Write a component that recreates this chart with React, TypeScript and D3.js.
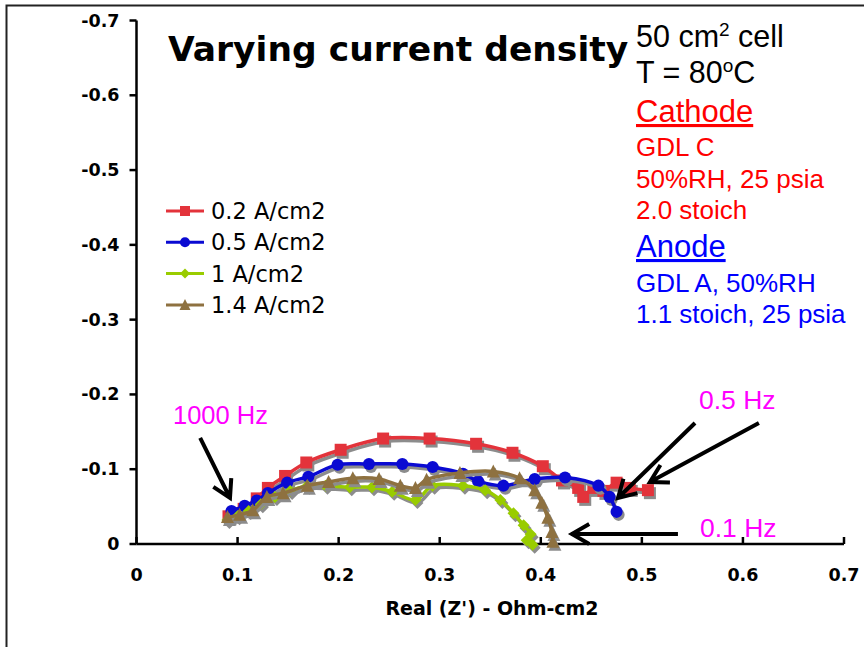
import React, { useEffect, useRef } from 'react';
import * as d3 from 'd3';

// Nyquist data: [Real Z', Imag Z''] (Ohm-cm2)
const series02 = [
  [0.091, -0.037], [0.098, -0.041], [0.106, -0.047], [0.119, -0.061], [0.130, -0.075],
  [0.147, -0.091], [0.168, -0.109], [0.202, -0.126], [0.244, -0.141], [0.290, -0.141],
  [0.336, -0.134], [0.372, -0.122], [0.402, -0.104], [0.421, -0.085], [0.437, -0.075],
  [0.442, -0.063], [0.452, -0.075], [0.462, -0.071], [0.475, -0.082], [0.488, -0.075],
  [0.506, -0.072]
];
const series05 = [
  [0.094, -0.044], [0.107, -0.051], [0.119, -0.058], [0.130, -0.068], [0.149, -0.082],
  [0.170, -0.090], [0.199, -0.106], [0.230, -0.107], [0.263, -0.107], [0.293, -0.103],
  [0.323, -0.094], [0.338, -0.084], [0.363, -0.078], [0.394, -0.087], [0.424, -0.089],
  [0.457, -0.078], [0.468, -0.063], [0.475, -0.043]
];
const series10 = [
  [0.090, -0.032], [0.100, -0.037], [0.111, -0.044], [0.123, -0.053], [0.137, -0.063],
  [0.152, -0.071], [0.169, -0.078], [0.187, -0.078], [0.211, -0.076], [0.233, -0.076],
  [0.253, -0.070], [0.276, -0.059], [0.293, -0.078], [0.323, -0.078], [0.345, -0.072],
  [0.360, -0.059], [0.373, -0.041], [0.383, -0.025], [0.390, -0.013], [0.386, -0.005],
  [0.392, 0.001]
];
const series14 = [
  [0.090, -0.036], [0.102, -0.039], [0.115, -0.045], [0.129, -0.063], [0.145, -0.068],
  [0.169, -0.078], [0.190, -0.083], [0.214, -0.088], [0.240, -0.087], [0.261, -0.078],
  [0.276, -0.075], [0.287, -0.086], [0.320, -0.095], [0.353, -0.097], [0.379, -0.088],
  [0.394, -0.072], [0.401, -0.055], [0.407, -0.035], [0.411, -0.016], [0.412, -0.003]
];

const seriesNames = ['0.2 A/cm2', '0.5 A/cm2', '1 A/cm2', '1.4 A/cm2'];
const seriesColors = ['#E3333B', '#0A0AD2', '#99CC00', '#8E7140'];
const seriesMarkers = ['square', 'circle', 'diamond', 'triangle'];

const xTicks = [0, 0.1, 0.2, 0.3, 0.4, 0.5, 0.6, 0.7];
const yTicks = [0, -0.1, -0.2, -0.3, -0.4, -0.5, -0.6, -0.7];

// frequency annotation arrows, [from, to] in data units
const arrows = [
  [[0.063, -0.142], [0.0925, -0.0615]],
  [[0.5526, -0.1618], [0.4764, -0.0615]],
  [[0.6158, -0.1618], [0.508, -0.0829]],
  [[0.5357, -0.0134], [0.4308, -0.0134]]
];

const infoLines = [
  { text: 'GDL C', y: 156, color: '#FF0000' },
  { text: '50%RH, 25 psia', y: 188, color: '#FF0000' },
  { text: '2.0 stoich', y: 219, color: '#FF0000' },
  { text: 'GDL A, 50%RH', y: 292, color: '#0000FF' },
  { text: '1.1 stoich, 25 psia', y: 323, color: '#0000FF' }
];

function markerPath(type, size) {
  const s = size / 2;
  if (type === 'square') return `M${-s},${-s}h${size}v${size}h${-size}Z`;
  if (type === 'diamond') return `M0,${-s}L${s},0L0,${s}L${-s},0Z`;
  if (type === 'triangle') return `M0,${-s - 1}L${s + 0.5},${s}L${-s - 0.5},${s}Z`;
  return d3.symbol(d3.symbolCircle, size * size * 0.8)();
}

function App() {
  const svgRef = useRef(null);

  useEffect(() => {
    const width = 864;
    const height = 647;
    const svg = d3.select(svgRef.current);
    svg.selectAll('*').remove();
    svg.attr('width', width).attr('height', height);

    const x = d3.scaleLinear().domain([0, 0.7]).range([136.5, 844]);
    const y = d3.scaleLinear().domain([0, -0.7]).range([544, 20.5]);

    // frame
    svg.append('path')
      .attr('d', `M6.5,${height}V5.5H${width}`)
      .attr('fill', 'none')
      .attr('stroke', '#222')
      .attr('stroke-width', 2);

    // axes
    const axisColor = '#000';
    svg.append('line')
      .attr('x1', x(0)).attr('x2', x(0))
      .attr('y1', y(-0.7)).attr('y2', y(0))
      .attr('stroke', axisColor).attr('stroke-width', 2.5);
    svg.append('line')
      .attr('x1', x(0)).attr('x2', x(0.7))
      .attr('y1', y(0)).attr('y2', y(0))
      .attr('stroke', axisColor).attr('stroke-width', 2.5);

    svg.selectAll('line.ytick')
      .data(yTicks)
      .enter()
      .append('line')
      .attr('class', 'ytick')
      .attr('x1', x(0) - 7).attr('x2', x(0))
      .attr('y1', d => y(d)).attr('y2', d => y(d))
      .attr('stroke', axisColor).attr('stroke-width', 2.5);

    svg.selectAll('text.ylab')
      .data(yTicks)
      .enter()
      .append('text')
      .attr('class', 'ylab')
      .attr('x', x(0) - 17)
      .attr('y', d => y(d) + 6)
      .attr('text-anchor', 'end')
      .attr('font-family', 'DejaVu Sans')
      .attr('font-weight', 'bold')
      .attr('font-size', 17.5)
      .text(d => (d === 0 ? '0' : d.toFixed(1)));

    svg.selectAll('line.xtick')
      .data(xTicks)
      .enter()
      .append('line')
      .attr('class', 'xtick')
      .attr('x1', d => x(d)).attr('x2', d => x(d))
      .attr('y1', y(0) - 7).attr('y2', y(0))
      .attr('stroke', axisColor).attr('stroke-width', 2.5);

    svg.selectAll('text.xlab')
      .data(xTicks)
      .enter()
      .append('text')
      .attr('class', 'xlab')
      .attr('x', d => x(d))
      .attr('y', 581)
      .attr('text-anchor', 'middle')
      .attr('font-family', 'DejaVu Sans')
      .attr('font-weight', 'bold')
      .attr('font-size', 17.5)
      .text(d => (d === 0 ? '0' : d.toFixed(1)));

    svg.append('text')
      .attr('x', 492)
      .attr('y', 615)
      .attr('text-anchor', 'middle')
      .attr('font-family', 'DejaVu Sans')
      .attr('font-weight', 'bold')
      .attr('font-size', 19)
      .text("Real (Z') - Ohm-cm2");

    // series
    const allSeries = [series02, series05, series10, series14];
    const line = d3.line()
      .x(d => x(d[0]))
      .y(d => y(d[1]))
      .curve(d3.curveCatmullRom.alpha(0.5));

    allSeries.forEach((data, i) => {
      const color = seriesColors[i];
      const size = 12;
      // shadow
      const sh = svg.append('g').attr('transform', 'translate(2,3)');
      sh.append('path')
        .attr('d', line(data))
        .attr('fill', 'none')
        .attr('stroke', '#8c8c8c')
        .attr('stroke-width', 3.5);
      sh.selectAll('path.m')
        .data(data)
        .enter()
        .append('path')
        .attr('class', 'm')
        .attr('transform', d => `translate(${x(d[0])},${y(d[1])})`)
        .attr('d', markerPath(seriesMarkers[i], size))
        .attr('fill', '#8c8c8c');

      const g = svg.append('g');
      g.append('path')
        .attr('d', line(data))
        .attr('fill', 'none')
        .attr('stroke', color)
        .attr('stroke-width', 3.5);
      g.selectAll('path.m')
        .data(data)
        .enter()
        .append('path')
        .attr('class', 'm')
        .attr('transform', d => `translate(${x(d[0])},${y(d[1])})`)
        .attr('d', markerPath(seriesMarkers[i], size))
        .attr('fill', color);
    });

    // legend
    const legend = svg.append('g').attr('transform', 'translate(166,211)');
    seriesNames.forEach((name, i) => {
      const row = legend.append('g').attr('transform', `translate(0,${i * 31.3})`);
      row.append('line')
        .attr('x1', 0).attr('x2', 38)
        .attr('stroke', seriesColors[i])
        .attr('stroke-width', 3);
      row.append('path')
        .attr('transform', 'translate(19,0)')
        .attr('d', markerPath(seriesMarkers[i], 10))
        .attr('fill', seriesColors[i]);
      row.append('text')
        .attr('x', 45)
        .attr('y', 8)
        .attr('font-family', 'DejaVu Sans')
        .attr('font-size', 22.5)
        .text(name);
    });

    // title
    svg.append('text')
      .attr('x', 168)
      .attr('y', 61)
      .attr('font-family', 'DejaVu Sans')
      .attr('font-weight', 'bold')
      .attr('font-size', 34.5)
      .text('Varying current density');

    // test conditions block
    const info = svg.append('g').attr('font-family', 'Liberation Sans, Arial');
    const t1 = info.append('text').attr('x', 636).attr('y', 47).attr('font-size', 30.5);
    t1.append('tspan').text('50 cm');
    t1.append('tspan').attr('font-size', 19).attr('dy', -11).text('2');
    t1.append('tspan').attr('dy', 11).text(' cell');
    const t2 = info.append('text').attr('x', 636).attr('y', 83).attr('font-size', 30.5);
    t2.append('tspan').text('T = 80');
    t2.append('tspan').attr('font-size', 19).attr('dy', -11).text('o');
    t2.append('tspan').attr('dy', 11).text('C');

    info.append('text')
      .attr('x', 636).attr('y', 122)
      .attr('font-size', 31)
      .attr('fill', '#FF0000')
      .attr('text-decoration', 'underline')
      .text('Cathode');
    info.append('text')
      .attr('x', 636).attr('y', 257)
      .attr('font-size', 31)
      .attr('fill', '#0000FF')
      .attr('text-decoration', 'underline')
      .text('Anode');
    info.selectAll('text.small')
      .data(infoLines)
      .enter()
      .append('text')
      .attr('class', 'small')
      .attr('x', 636)
      .attr('y', d => d.y)
      .attr('font-size', 26)
      .attr('fill', d => d.color)
      .text(d => d.text);

    // frequency labels
    const freq = svg.append('g')
      .attr('font-family', 'Liberation Sans, Arial')
      .attr('fill', '#FF00FF');
    freq.append('text').attr('x', 173).attr('y', 424).attr('font-size', 25.5).text('1000 Hz');
    freq.append('text').attr('x', 699).attr('y', 409).attr('font-size', 26.5).text('0.5 Hz');
    freq.append('text').attr('x', 700).attr('y', 537).attr('font-size', 26.5).text('0.1 Hz');

    // arrows
    arrows.forEach(([from, to]) => {
      const x1 = x(from[0]), y1 = y(from[1]);
      const x2 = x(to[0]), y2 = y(to[1]);
      const ang = Math.atan2(y1 - y2, x1 - x2);
      const len = 20;
      const a1 = ang + Math.PI / 6;
      const a2 = ang - Math.PI / 6;
      svg.append('path')
        .attr('d', `M${x1},${y1}L${x2},${y2}` +
          `M${x2 + len * Math.cos(a1)},${y2 + len * Math.sin(a1)}L${x2},${y2}` +
          `L${x2 + len * Math.cos(a2)},${y2 + len * Math.sin(a2)}`)
        .attr('fill', 'none')
        .attr('stroke', '#000')
        .attr('stroke-width', 4);
    });
  }, []);

  return (
    <svg ref={svgRef} style={{ position: 'absolute', left: 0, top: 0, background: '#fff' }}></svg>
  );
}

export default App;
